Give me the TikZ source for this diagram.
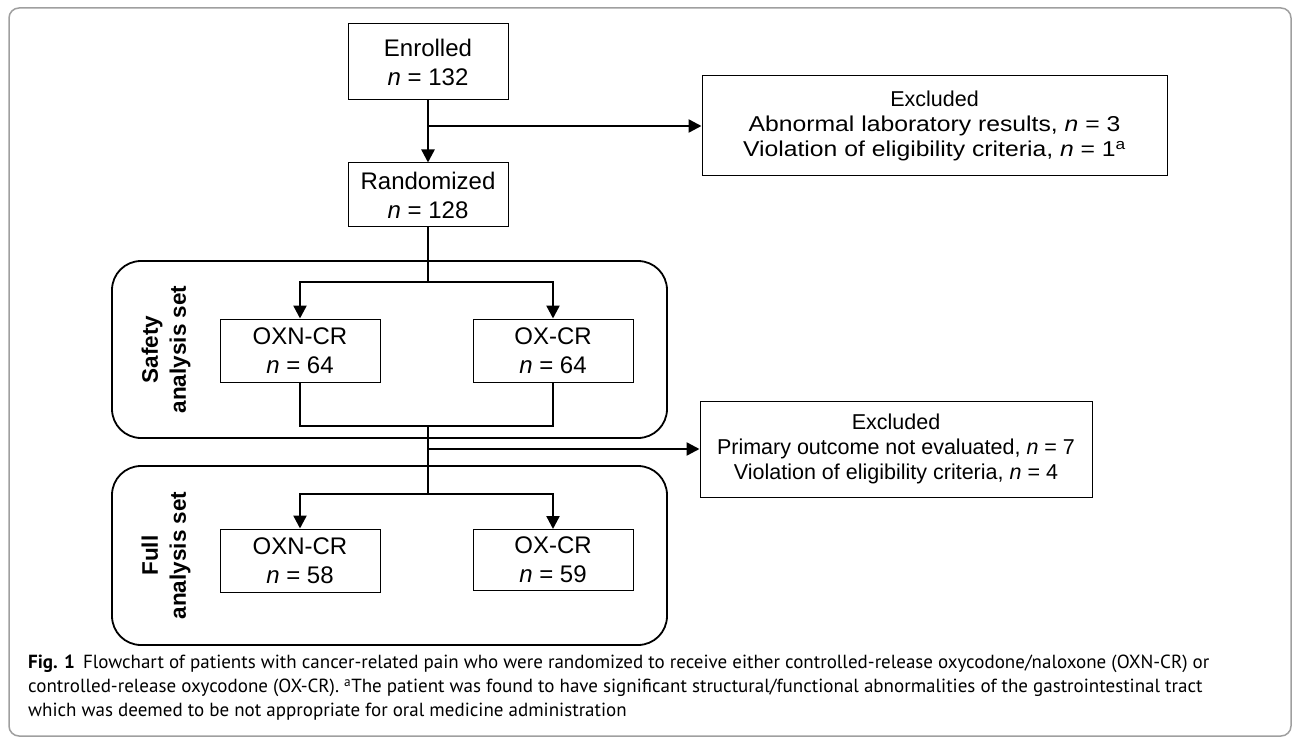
\documentclass[tikz,border=0pt]{standalone}
\usepackage{fontspec}
\usepackage{graphicx}
\setmainfont{Liberation Sans}
\newfontfamily\capfont{PT Sans}
\usetikzlibrary{arrows.meta}
\newcommand{\wideline}[1]{\scalebox{1.15}[1]{#1}}
\begin{document}
\begin{tikzpicture}[x=1pt,y=-1pt,
    box/.style={draw, line width=1pt, minimum width=160pt, minimum height=63pt, inner sep=0pt, align=center, font=\fontsize{24}{29}\selectfont},
    exbox/.style={box, font=\fontsize{21.5}{25}\selectfont},
    conn/.style={line width=2.4pt},
    arr/.style={conn, -{Triangle[length=13pt,width=13pt]}},
    setbox/.style={draw, line width=1.8pt, rounded corners=29pt, minimum width=555pt, inner sep=0pt},
    setlabel/.style={rotate=90, align=center, font=\fontsize{22.5}{28}\selectfont\bfseries}]
  \useasboundingbox (0,0) rectangle (1293,738);
  \draw[gray!75, line width=1.5pt, rounded corners=10pt] (9,8) rectangle (1291,736);
  \node[setbox, minimum height=177pt] (safety) at (389.5,349.5) {};
  \node[setbox, minimum height=179pt] (fullset) at (389.5,555.5) {};
  \node[setlabel] (safetylabel) at (166,349.5) {Safety\\analysis set};
  \node[setlabel] (fulllabel) at (166,555.5) {Full\\analysis set};
  \node[box, minimum height=76pt] (enrolled) at (428,62) {Enrolled\\\textit{n} = 132};
  \node[box, minimum height=64pt] (randomized) at (428,195) {Randomized\\\textit{n} = 128};
  \node[exbox, minimum width=465pt, minimum height=100pt] (excl1) at (934.5,126)
    {Excluded\\\wideline{Abnormal laboratory results, \textit{n} = 3}\\\wideline{Violation of eligibility criteria, \textit{n} = 1\textsuperscript{a}}};
  \node[box] (soxn) at (300,350.5) {OXN-CR\\\textit{n} = 64};
  \node[box] (sox) at (553,350.5) {OX-CR\\\textit{n} = 64};
  \node[exbox, minimum width=392pt, minimum height=96pt] (excl2) at (896,449)
    {Excluded\\Primary outcome not evaluated, \textit{n} = 7\\Violation of eligibility criteria, \textit{n} = 4};
  \node[box] (foxn) at (300,560.5) {OXN-CR\\\textit{n} = 58};
  \node[box, minimum height=61pt] (fox) at (553,560) {OX-CR\\\textit{n} = 59};
  \coordinate (split1) at (enrolled.south |- excl1.west);
  \coordinate (fork1) at (428,282);
  \coordinate (merge) at (428,426);
  \coordinate (split2) at (merge |- excl2.west);
  \coordinate (fork2) at (428,494);
  \draw[arr] (enrolled) -- (randomized);
  \draw[arr] (split1) -- (excl1);
  \draw[conn] (randomized) -- (fork1);
  \draw[arr] (fork1) -| (soxn);
  \draw[arr] (fork1) -| (sox);
  \draw[conn] (soxn) |- (merge) -| (sox);
  \draw[conn] (merge) -- (fork2);
  \draw[arr] (split2) -- (excl2);
  \draw[arr] (fork2) -| (foxn);
  \draw[arr] (fork2) -| (fox);
  \node[anchor=north west, inner sep=0pt, align=left, font=\capfont\fontsize{19}{24}\selectfont] (caption) at (28,655)
    {\textbf{Fig. 1}\hspace{8pt}Flowchart of patients with cancer-related pain who were randomized to receive either controlled-release oxycodone/naloxone (OXN-CR) or\\
     controlled-release oxycodone (OX-CR). \textsuperscript{a}The patient was found to have significant structural/functional abnormalities of the gastrointestinal tract\\
     which was deemed to be not appropriate for oral medicine administration};
\end{tikzpicture}
\end{document}
